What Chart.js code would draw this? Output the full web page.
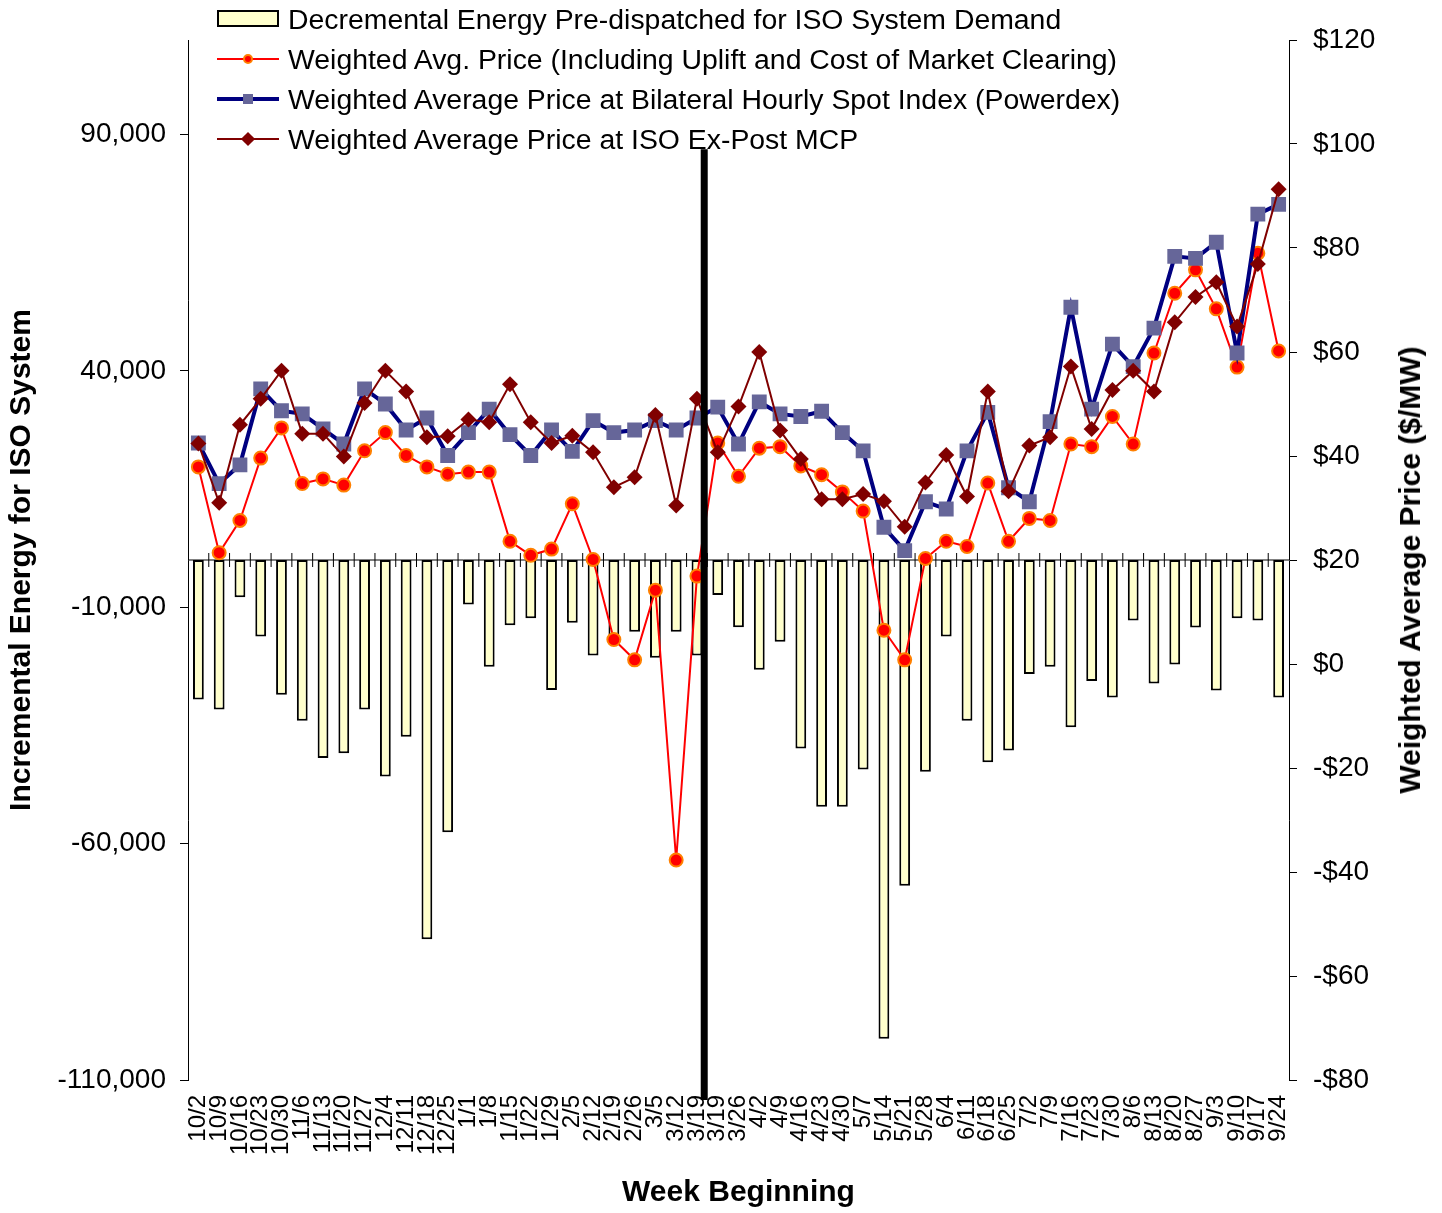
<!DOCTYPE html>
<html>
<head>
<meta charset="utf-8">
<title>Decremental Energy and Weighted Average Prices</title>
<script src="https://cdn.jsdelivr.net/npm/chart.js@4.4.1/dist/chart.umd.min.js"></script>
<style>
  body { margin: 0; background: #fff; }
  #wrap { position: relative; width: 1442px; height: 1213px; font-family: "Liberation Sans", Arial, sans-serif; color: #000; }
  #legend { position: absolute; left: 217px; top: -1px; font-size: 28.4px; }
  .row { height: 40px; display: flex; align-items: center; white-space: nowrap; }
  .sym { position: relative; width: 62px; height: 40px; margin-right: 9px; flex: none; }
  .sym .bar { position: absolute; left: 0; top: 11px; width: 62px; height: 17px; box-sizing: border-box; background: #FFFFCC; border: 2px solid #000; }
  .sym .ln { position: absolute; left: 0; width: 62px; }
  .sym .mk { position: absolute; left: 26px; top: 15px; width: 10px; height: 10px; box-sizing: border-box; }
  #rightTitle { position: absolute; left: 1410px; top: 570px; transform: translate(-50%, -50%) rotate(-90deg); font-size: 30px; font-weight: bold; white-space: nowrap; }
</style>
</head>
<body>
<div id="wrap">
  <canvas id="myChart" width="1442" height="1213"></canvas>
  <div id="legend">
    <div class="row"><div class="sym"><div class="bar"></div></div>Decremental Energy Pre-dispatched for ISO System Demand</div>
    <div class="row"><div class="sym"><div class="ln" style="top:19px;height:2px;background:#FF0000"></div><div class="mk" style="border-radius:50%;background:#FF0000;border:2px solid #FF8000"></div></div>Weighted Avg. Price (Including Uplift and Cost of Market Clearing)</div>
    <div class="row"><div class="sym"><div class="ln" style="top:18px;height:4px;background:#000080"></div><div class="mk" style="background:#666699"></div></div>Weighted Average Price at Bilateral Hourly Spot Index (Powerdex)</div>
    <div class="row"><div class="sym"><div class="ln" style="top:19px;height:2px;background:#800000"></div><div class="mk" style="background:#800000;transform:rotate(45deg)"></div></div>Weighted Average Price at ISO Ex-Post MCP</div>
  </div>
  <div id="rightTitle">Weighted Average Price ($/MW)</div>
</div>
<script>
const weeks = ['10/2','10/9','10/16','10/23','10/30','11/6','11/13','11/20','11/27','12/4','12/11','12/18','12/25',
  '1/1','1/8','1/15','1/22','1/29','2/5','2/12','2/19','2/26','3/5','3/12','3/19','3/19',
  '3/26','4/2','4/9','4/16','4/23','4/30','5/7','5/14','5/21','5/28','6/4','6/11','6/18',
  '6/25','7/2','7/9','7/16','7/23','7/30','8/6','8/13','8/20','8/27','9/3','9/10','9/17','9/24'];

// MWh, bars hang below zero
const decEnergy = [-29500,-31600,-7900,-16200,-28500,-34000,-41900,-40900,-31600,-45800,-37400,-80200,-57600,
  -9400,-22600,-13800,-12300,-27500,-13300,-20200,-17300,-15200,-20700,-15200,-20200,-7400,
  -14200,-23200,-17300,-39900,-52200,-52200,-44300,-101300,-68900,-44800,-16200,-34000,-42800,
  -40300,-24100,-22600,-35400,-25600,-29100,-12800,-26100,-22100,-14300,-27600,-12300,-12800,-29100];

// $/MW
const avgPrice = [37.9,21.4,27.6,39.6,45.4,34.7,35.6,34.4,41.0,44.5,40.1,37.9,36.5,
  36.9,36.9,23.6,20.9,22.1,30.8,20.1,4.7,0.8,14.2,-37.7,16.9,42.5,
  36.1,41.5,41.8,38.1,36.4,33.1,29.4,6.5,0.8,20.3,23.6,22.6,34.8,
  23.6,28.0,27.6,42.3,41.8,47.6,42.3,59.8,71.3,75.8,68.3,57.1,79.0,60.2];

const powerdexPrice = [42.5,34.7,38.3,52.9,48.7,48.1,45.2,42.3,52.9,50.0,45.0,47.3,40.1,
  44.5,49.0,44.1,40.1,45.0,40.9,46.8,44.5,45.0,46.8,45.0,47.3,49.4,
  42.3,50.4,48.1,47.6,48.6,44.5,41.0,26.3,21.8,31.2,29.8,41.0,48.4,
  33.9,31.2,46.6,68.6,49.0,61.5,57.2,64.6,78.4,78.0,81.1,59.8,86.5,88.4];

const mcpPrice = [42.4,31.0,46.0,51.0,56.4,44.3,44.3,39.9,50.2,56.4,52.4,43.6,43.8,
  47.0,46.5,53.8,46.5,42.5,43.9,40.7,34.0,35.9,47.9,30.5,51.0,40.7,
  49.5,60.0,44.9,39.4,31.7,31.7,32.7,31.3,26.4,34.9,40.2,32.2,52.4,
  33.2,42.0,43.6,57.2,45.2,52.7,56.4,52.4,65.7,70.6,73.4,64.9,76.9,91.3];

const energyTicks = [-110000, -60000, -10000, 40000, 90000];
const dividerAt = 24.35;   // between the two 3/19 weeks
const dividerTop = 99;     // $/MW level where the divider starts

Chart.defaults.font.family = '"Liberation Sans", Arial, sans-serif';
Chart.defaults.color = '#000';

// zero line with category ticks, plus the thick divider
const overlay = {
  id: 'overlay',
  beforeDatasetsDraw(chart) {
    const {ctx, chartArea, scales} = chart;
    const y0 = scales.yE.getPixelForValue(0);
    ctx.save();
    ctx.strokeStyle = '#000';
    ctx.lineWidth = 1;
    ctx.beginPath();
    ctx.moveTo(chartArea.left, y0);
    ctx.lineTo(chartArea.right, y0);
    for (let i = 1; i < weeks.length; i++) {
      const x = (scales.x.getPixelForValue(i - 1) + scales.x.getPixelForValue(i)) / 2;
      ctx.moveTo(x, y0 - 7);
      ctx.lineTo(x, y0 + 7);
    }
    ctx.stroke();
    ctx.restore();
  },
  afterDatasetsDraw(chart) {
    const {ctx, chartArea, scales} = chart;
    const i = Math.floor(dividerAt);
    const a = scales.x.getPixelForValue(i);
    const b = scales.x.getPixelForValue(i + 1);
    const x = a + (b - a) * (dividerAt - i);
    ctx.save();
    ctx.strokeStyle = '#000';
    ctx.lineWidth = 7;
    ctx.beginPath();
    ctx.moveTo(x, scales.yP.getPixelForValue(dividerTop));
    ctx.lineTo(x, chartArea.bottom + 20);
    ctx.stroke();
    ctx.restore();
  }
};

const ctx = document.getElementById('myChart');

new Chart(ctx, {
  data: {
    labels: weeks,
    datasets: [
      {
        type: 'bar',
        label: 'Decremental Energy Pre-dispatched for ISO System Demand',
        data: decEnergy,
        yAxisID: 'yE',
        backgroundColor: '#FFFFCC',
        borderColor: '#000',
        borderWidth: 2,
        borderSkipped: false,
        barPercentage: 0.52,
        categoryPercentage: 1,
        order: 4
      },
      {
        type: 'line',
        label: 'Weighted Avg. Price (Including Uplift and Cost of Market Clearing)',
        data: avgPrice,
        yAxisID: 'yP',
        borderColor: '#FF0000',
        borderWidth: 2,
        pointStyle: 'circle',
        pointRadius: 6.5,
        pointBorderWidth: 2,
        pointBackgroundColor: '#FF0000',
        pointBorderColor: '#FF8000',
        tension: 0,
        order: 3
      },
      {
        type: 'line',
        label: 'Weighted Average Price at Bilateral Hourly Spot Index (Powerdex)',
        data: powerdexPrice,
        yAxisID: 'yP',
        borderColor: '#000080',
        borderWidth: 4,
        pointStyle: 'rect',
        pointRadius: 10.5,
        pointBorderWidth: 0,
        pointBackgroundColor: '#666699',
        pointBorderColor: '#666699',
        tension: 0,
        order: 2
      },
      {
        type: 'line',
        label: 'Weighted Average Price at ISO Ex-Post MCP',
        data: mcpPrice,
        yAxisID: 'yP',
        borderColor: '#800000',
        borderWidth: 2,
        pointStyle: 'rectRot',
        pointRadius: 8,
        pointBorderWidth: 0,
        pointBackgroundColor: '#800000',
        pointBorderColor: '#800000',
        tension: 0,
        order: 1
      }
    ]
  },
  options: {
    responsive: false,
    animation: false,
    devicePixelRatio: 1,
    layout: { padding: { top: 40, left: 0, right: 0, bottom: 0 } },
    plugins: {
      legend: { display: false },
      tooltip: { enabled: false }
    },
    scales: {
      x: {
        offset: true,
        grid: { display: false },
        border: { display: false },
        ticks: { autoSkip: false, minRotation: 90, maxRotation: 90, padding: 7, font: { size: 24 } },
        title: { display: true, text: 'Week Beginning', font: { size: 30, weight: 'bold' }, padding: { top: 0, bottom: 2 } },
        afterFit(scale) { scale.height = 133; }
      },
      yE: {
        position: 'left',
        min: -110000,
        max: 110000,
        afterBuildTicks(scale) { scale.ticks = energyTicks.map(v => ({ value: v })); },
        ticks: { padding: 14, font: { size: 28 }, callback: v => v.toLocaleString('en-US') },
        grid: { drawOnChartArea: false, tickLength: 8, color: '#000' },
        border: { color: '#000', width: 1 },
        title: { display: true, text: 'Incremental Energy for ISO System', font: { size: 30, weight: 'bold' }, padding: { top: 4, bottom: 0 } },
        afterFit(scale) { scale.width = 188; }
      },
      yP: {
        position: 'right',
        min: -80,
        max: 120,
        ticks: { stepSize: 20, padding: 16, font: { size: 28 }, callback: v => (v < 0 ? '-$' + Math.abs(v) : '$' + v) },
        grid: { drawOnChartArea: false, tickLength: 8, color: '#000' },
        border: { color: '#000', width: 1 },
        afterFit(scale) { scale.width = 153; }
      }
    }
  },
  plugins: [overlay]
});
</script>
</body>
</html>
